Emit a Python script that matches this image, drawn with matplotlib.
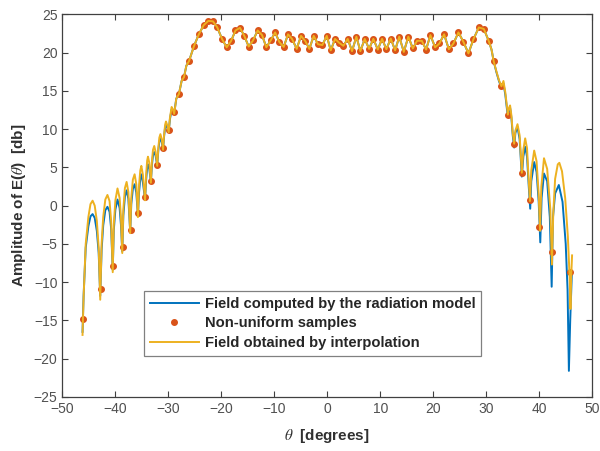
import numpy as np
import matplotlib
matplotlib.use("Agg")
from matplotlib import pyplot as plt

plt.rcParams['font.family'] = ['Liberation Sans', 'DejaVu Sans']
plt.rcParams['mathtext.fontset'] = 'stix'

# non-uniform samples (theta in degrees, amplitude in dB)
sample_theta = [-46.07, -42.73, -40.46, -38.64, -37.12, -35.74, -34.40, -33.30, -32.10, -31.02,
                -29.94, -28.94, -28.00, -27.05, -26.10, -25.17, -24.25, -23.33, -22.46, -21.58,
                -20.76, -19.88, -18.99, -18.18, -17.33, -16.48, -15.67, -14.84, -14.02, -13.14,
                -12.32, -11.51, -10.68, -9.84, -9.06, -8.23, -7.41, -6.66, -5.77, -4.96,
                -4.14, -3.39, -2.56, -1.75, -0.93, -0.10, 0.65, 1.46, 2.22, 3.03,
                3.86, 4.67, 5.49, 6.24, 7.07, 7.88, 8.70, 9.53, 10.34, 11.15,
                11.98, 12.80, 13.58, 14.44, 15.30, 16.14, 16.95, 17.84, 18.65, 19.46,
                20.35, 21.16, 22.05, 22.94, 23.81, 24.75, 25.70, 26.64, 27.58, 28.60,
                29.55, 30.49, 31.40, 32.87, 34.08, 35.27, 36.72, 38.20, 40.05, 42.45,
                45.85]
sample_db = [-14.8, -10.9, -7.95, -5.47, -3.2, -1.02, 1.1, 3.2, 5.35, 7.6,
             9.85, 12.2, 14.6, 16.8, 18.9, 20.85, 22.4, 23.6, 24.15, 24.1,
             23.3, 21.8, 20.7, 21.5, 22.9, 23.25, 22.2, 20.8, 21.6, 22.9,
             22.3, 20.7, 21.6, 22.65, 21.4, 20.75, 22.4, 21.8, 20.5, 22.2,
             21.5, 20.5, 22.2, 21.1, 21.0, 22.2, 20.3, 21.8, 21.3, 20.9,
             21.8, 20.2, 22.1, 20.2, 21.8, 20.5, 21.8, 20.4, 21.8, 20.45,
             21.85, 20.3, 22.1, 20.1, 22.1, 20.55, 21.55, 21.55, 20.4, 22.3,
             20.7, 21.2, 22.4, 20.45, 21.2, 22.65, 21.4, 19.9, 21.75, 23.3,
             23.1, 21.5, 18.9, 15.6, 11.9, 8.1, 4.3, 0.75, -2.8, -6.1,
             -8.7]

# main lobe (both curves pass through the samples here)
main_theta = sample_theta[15:82]
main_db = sample_db[15:82]

# left side lobes
left_theta = [-46.2, -46.0, -45.6, -45.1, -44.7, -44.3, -43.9, -43.5, -43.15, -42.86,
              -42.6, -42.3, -41.9, -41.5, -41.1, -40.8, -40.5, -40.3, -40.0, -39.6,
              -39.2, -38.95, -38.7, -38.5, -38.2, -37.88, -37.55, -37.2, -37.0, -36.7,
              -36.37, -36.05, -35.74, -35.55, -35.3, -35.1, -34.8, -34.4, -34.2, -34.0,
              -33.85, -33.6, -33.3, -33.1, -32.9, -32.66, -32.4, -32.1, -31.9, -31.7,
              -31.5, -31.25, -31.0, -30.8, -30.6, -30.45, -30.2, -29.94, -29.7, -29.38,
              -29.15, -28.9, -28.5, -28.0, -27.5, -27.05, -26.6, -26.1]
left_model = [-16.5, -11.8, -5.5, -2.7, -1.4, -1.1, -1.6, -3.3, -6.2, -11.8,
              -5.8, -2.6, -0.6, -0.15, -0.8, -3.0, -8.4, -3.2, -0.5, 0.8,
              -0.3, -2.5, -6.0, -1.3, 1.2, 2.0, 0.9, -3.4, 0.2, 2.2,
              2.8, 1.7, -1.3, 1.6, 3.5, 4.1, 3.0, 0.8, 3.3, 5.0,
              5.4, 4.8, 3.1, 5.3, 6.6, 7.0, 6.5, 5.25, 7.2, 8.4,
              8.8, 8.3, 7.4, 9.1, 10.3, 10.6, 10.2, 9.7, 11.3, 12.6,
              12.4, 12.1, 14.0, 14.6, 16.3, 16.8, 18.3, 18.9]
left_interp = [-16.9, -12.0, -5.0, -1.5, 0.2, 0.65, 0.0, -2.0, -5.5, -12.3,
               -5.0, -1.5, 0.8, 1.4, 0.6, -2.0, -8.7, -2.5, 0.7, 2.25,
               1.0, -1.5, -6.2, -0.5, 2.3, 3.1, 1.8, -3.6, 1.0, 3.4,
               4.1, 2.8, -1.5, 2.5, 4.6, 5.2, 4.0, 0.7, 4.0, 5.9,
               6.4, 5.6, 3.0, 5.8, 7.3, 7.8, 7.0, 5.2, 7.5, 8.9,
               9.35, 8.7, 7.3, 9.3, 10.6, 11.0, 10.5, 9.6, 11.5, 12.9,
               12.6, 12.0, 14.0, 14.6, 16.3, 16.8, 18.3, 18.9]

# right side lobes
right_theta_m = [31.0, 31.4, 31.9, 32.4, 32.87, 33.25, 33.6, 34.08, 34.3, 34.5,
                 34.75, 35.0, 35.27, 35.5, 35.9, 36.3, 36.72, 37.0, 37.35, 37.7,
                 38.0, 38.3, 38.5, 39.05, 39.5, 39.9, 40.2, 40.45, 40.9, 41.5,
                 42.0, 42.35, 42.6, 43.0, 43.7, 44.4, 45.0, 45.35, 45.6, 45.85,
                 46.15]
right_model = [20.4, 18.9, 17.5, 16.3, 15.4, 16.0, 14.5, 11.6, 12.5, 12.8,
               11.5, 9.2, 7.6, 9.5, 10.3, 8.7, 3.8, 6.4, 7.7, 6.4,
               2.8, -0.4, 3.2, 5.7, 4.4, 0.5, -4.8, 1.0, 4.2, 3.2,
               -1.5, -10.6, -1.5, 1.6, 2.7, 0.5, -5.0, -11.0, -21.6, -15.0,
               -9.0]
right_theta_i = [31.0, 31.4, 31.9, 32.4, 32.87, 33.25, 33.6, 34.08, 34.3, 34.5,
                 34.75, 35.0, 35.27, 35.5, 35.9, 36.3, 36.72, 37.0, 37.35, 37.7,
                 38.0, 38.25, 38.5, 39.05, 39.5, 39.9, 40.15, 40.4, 40.9, 41.5,
                 42.1, 42.4, 42.65, 43.0, 43.5, 43.8, 44.3, 44.9, 45.4, 45.75,
                 45.9, 46.05, 46.2]
right_interp = [20.4, 18.9, 17.6, 16.4, 15.6, 16.3, 14.8, 11.9, 12.8, 13.1,
                11.8, 9.5, 8.1, 9.8, 10.65, 9.2, 4.3, 7.3, 8.8, 7.5,
                3.5, 0.6, 4.6, 7.2, 5.8, 1.5, -3.3, 2.5, 6.2, 4.8,
                -0.5, -7.7, -1.0, 3.5, 5.4, 5.6, 4.5, 1.0, -4.0, -9.5,
                -13.5, -9.0, -6.5]

model_theta = left_theta + main_theta + right_theta_m
model_db = left_model + main_db + right_model
interp_theta = left_theta + main_theta + right_theta_i
interp_db = left_interp + main_db + right_interp

fig = plt.figure(figsize=(6, 4.51), dpi=100)
ax = fig.add_axes([0.104, 0.12, 0.883, 0.848])

ax.plot(model_theta, model_db, color='#0072BD', lw=1.4,
        label='Field computed by the radiation model')
ax.plot(sample_theta, sample_db, 'o', color='#D95319', ms=4.0, mec='#D95319',
        label='Non-uniform samples')
ax.plot(interp_theta, interp_db, color='#EDB120', lw=1.4,
        label='Field obtained by interpolation')

ax.set_xlim(-50, 50)
ax.set_ylim(-25, 25)
ax.set_xticks(np.arange(-50, 51, 10))
ax.set_yticks(np.arange(-25, 26, 5))

axc = '#404040'
for s in ax.spines.values():
    s.set_color(axc)
    s.set_linewidth(0.9)
ax.tick_params(direction='in', top=True, right=True, length=4, width=0.8,
               colors=axc, labelsize=10, labelcolor='#505050')

ax.set_xlabel(r'$\theta$  [degrees]', fontsize=11, fontweight='bold', color='#303030',
              labelpad=8)
ax.set_ylabel(r'Amplitude of E($\theta$)  [db]', fontsize=11, fontweight='bold', color='#303030')

leg = ax.legend(loc='lower left', bbox_to_anchor=(0.1545, 0.108), borderaxespad=0,
                fancybox=False, framealpha=1, edgecolor='#808080',
                prop={'weight': 'bold', 'size': 10.6}, handlelength=3.3,
                handletextpad=0.4, labelspacing=0.36, borderpad=0.4)
leg.get_frame().set_linewidth(0.9)
for t in leg.get_texts():
    t.set_color('#262626')

plt.savefig('out.png', dpi=100)
